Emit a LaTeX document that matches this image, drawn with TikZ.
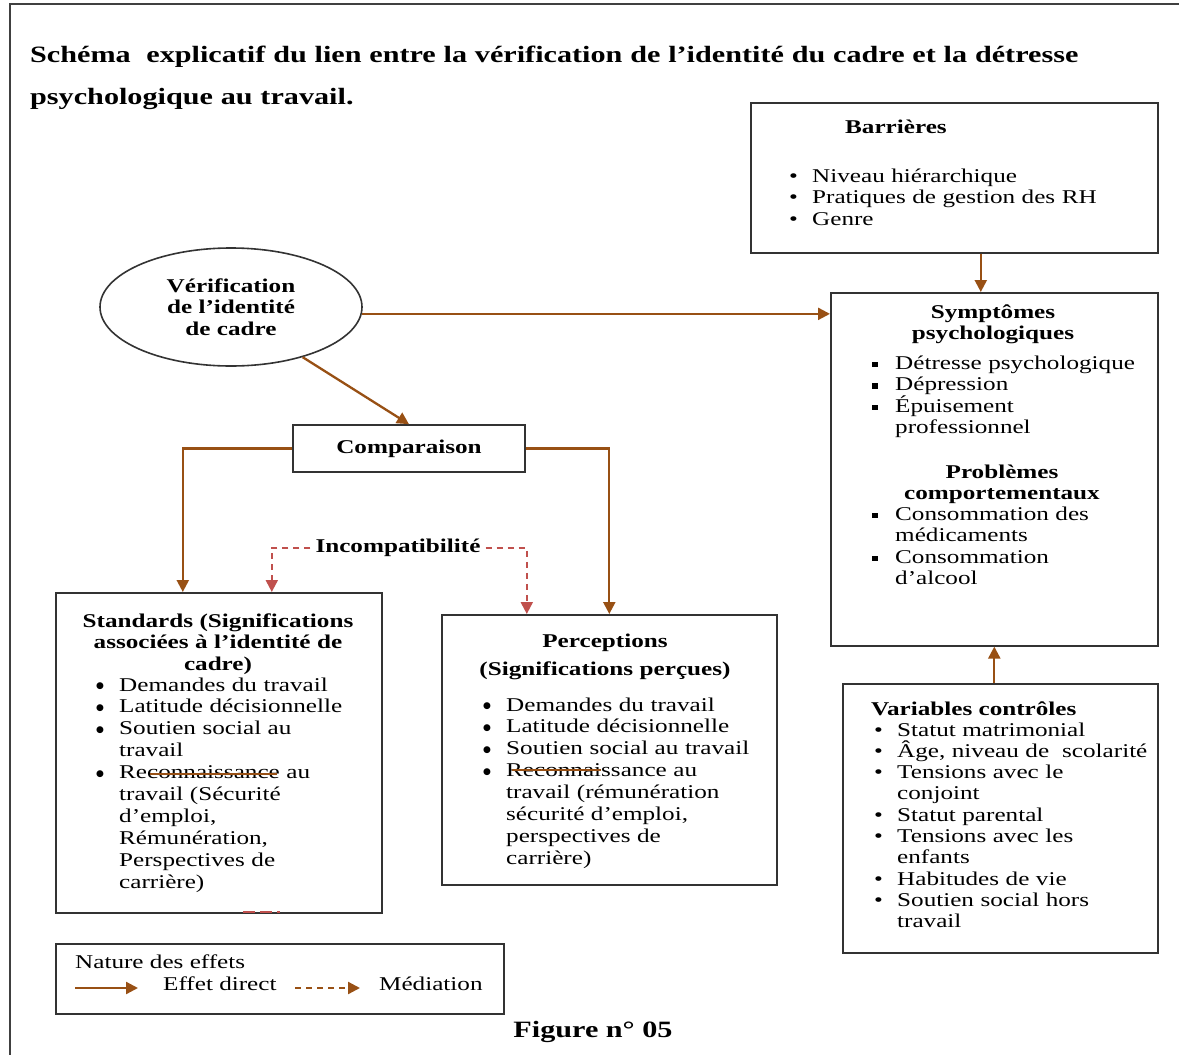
\documentclass[tikz,border=0pt]{standalone}
\usepackage{fontspec}
\setmainfont{Liberation Serif}[FakeStretch=1.29]
\newfontface\dotfont{DejaVu Sans}
\usepackage{tikz}
\usetikzlibrary{positioning,arrows.meta,shapes.geometric}
\definecolor{arrbrown}{RGB}{152,80,20}
\definecolor{incred}{RGB}{192,80,77}
\newlength{\bulw}
\setlength{\bulw}{23pt}
\newcommand{\itm}{\makebox[\bulw][l]{•}}
\newcommand{\ditm}{\makebox[\bulw][l]{\raisebox{2.5pt}{\dotfont\fontsize{9}{0}\selectfont ●}}}
\newcommand{\sqi}{\makebox[\bulw][l]{\rule[2pt]{5.5pt}{5.5pt}}}
\newcommand{\cnt}{\hspace*{\bulw}}

\begin{document}
\begin{tikzpicture}[
  x=1pt,y=-1pt,
  >={Triangle[length=12pt,width=12pt]},
  box/.style={rectangle,draw=black!80,line width=1.6pt,inner sep=0pt,anchor=north west},
  txt/.style={inner sep=0pt,font=\fontsize{19.5}{21.5}\selectfont},
  hdr/.style={inner sep=0pt,align=center,font=\bfseries\fontsize{19.5}{21.5}\selectfont},
  lst/.style={txt,anchor=base west,align=left,text width=#1},
  ttl/.style={inner sep=0pt,font=\bfseries\fontsize{23.4}{42}\selectfont},
  arr/.style={->,draw=arrbrown,line width=2.3pt},
  incline/.style={->,draw=incred,line width=2pt,dash pattern=on 6pt off 5pt}
]
\useasboundingbox (0,0) rectangle (1179,1055);
\draw[line width=1.5pt,black!75] (10,1055) -- (10,4) -- (1179,4);

\node[ttl,anchor=base west,text width=1140pt,align=left] (ttl) at (30,62)
  {Schéma\ \ explicatif du lien entre la vérification de l’identité du cadre et la détresse\\psychologique au travail.};

% boxes
\node[box,minimum width=407pt,minimum height=150pt] (bar) at (750,102) {};
\node[box,minimum width=327pt,minimum height=353pt] (sym) at (830,292) {};
\node[box,minimum width=315pt,minimum height=269pt] (var) at (842,683) {};
\node[box,minimum width=326pt,minimum height=320pt] (std) at (55,592) {};
\node[box,minimum width=335pt,minimum height=270pt] (perc) at (441,614) {};
\node[box,minimum width=448pt,minimum height=70pt] (leg) at (55,943) {};
\node[box,anchor=center,minimum width=232pt,minimum height=47pt,
      font=\bfseries\fontsize{19.5}{21.5}\selectfont] (comp) at (409,448.5) {Comparaison};
\node[ellipse,draw=black!80,line width=1.6pt,minimum width=262pt,minimum height=118pt,
      inner sep=0pt,align=center,font=\bfseries\fontsize{19.5}{21.5}\selectfont] (ver) at (231,307)
  {Vérification\\de l’identité\\de cadre};

% texts in the boxes
\node[hdr,anchor=base west] (barT) at (845,133) {Barrières};
\node[lst=340pt] (barL) at (789,182) {\itm Niveau hiérarchique\\\itm Pratiques de gestion des RH\\\itm Genre};

\node[hdr,text width=300pt,anchor=base] (symT) at (993,318) {Symptômes\\psychologiques};
\node[lst=280pt] (symL) at (872,369)
  {\sqi Détresse psychologique\\\sqi Dépression\\\sqi Épuisement\\\cnt professionnel};
\node[hdr,text width=300pt,anchor=base] (probT) at (1002,478) {Problèmes\\comportementaux};
\node[lst=280pt] (probL) at (872,520)
  {\sqi Consommation des\\\cnt médicaments\\\sqi Consommation\\\cnt d’alcool};

\node[hdr,anchor=base west] (varT) at (871,715) {Variables contrôles};
\node[lst=290pt,font=\fontsize{19.5}{21.3}\selectfont] (varL) at (874,736)
  {\itm Statut matrimonial\\\itm Âge, niveau de\ \ scolarité\\\itm Tensions avec le\\\cnt conjoint\\
   \itm Statut parental\\\itm Tensions avec les\\\cnt enfants\\\itm Habitudes de vie\\
   \itm Soutien social hors\\\cnt travail};

\node[hdr,text width=320pt,anchor=base] (stdT) at (218,627)
  {Standards (Significations\\associées à l’identité de\\cadre)};
\node[lst=290pt,font=\fontsize{19.5}{21.9}\selectfont] (stdL) at (96,691)
  {\ditm Demandes du travail\\\ditm Latitude décisionnelle\\\ditm Soutien social au\\\cnt travail\\
   \ditm Reconnaissance au\\\cnt travail (Sécurité\\\cnt d’emploi,\\\cnt Rémunération,\\
   \cnt Perspectives de\\\cnt carrière)};

\node[hdr,text width=320pt,anchor=base,font=\bfseries\fontsize{19.5}{28}\selectfont] (percT) at (605,647)
  {Perceptions\\(Significations perçues)};
\node[lst=300pt,font=\fontsize{19.5}{21.9}\selectfont] (percL) at (483,711)
  {\ditm Demandes du travail\\\ditm Latitude décisionnelle\\\ditm Soutien social au travail\\
   \ditm Reconnaissance au\\\cnt travail (rémunération\\\cnt sécurité d’emploi,\\
   \cnt perspectives de\\\cnt carrière)};

\node[hdr,inner sep=5pt] (inc) at (398,548) {Incompatibilité};

% legend
\node[txt,anchor=base west] (legT) at (75,968) {Nature des effets};
\node[txt,anchor=base west] (legD) at (163,990) {Effet direct};
\node[txt,anchor=base west] (legM) at (379,990) {Médiation};
\coordinate (ld1) at (75,988);
\coordinate (ld2) at (138,988);
\coordinate (lm1) at (295,988);
\coordinate (lm2) at (360,988);
\draw[arr] (ld1) -- (ld2);
\draw[arr,dash pattern=on 6pt off 5pt] (lm1) -- (lm2);

\node[ttl,anchor=base] (fig) at (593,1037) {Figure n° 05};

% connectors
\draw[arr] (ver.-3) -- (ver.-3 -| sym.west);
\draw[arr] (ver.-35) -- (comp.north);
\draw[arr] ([xshift=26.5pt]bar.south) -- ([xshift=26.5pt]bar.south |- sym.north);
\draw[arr] (var.north -| sym.south) -- (sym.south);
\draw[arr] (comp.west) -| ([xshift=-36pt]std.north);
\draw[arr] (comp.east) -| (perc.north);
\draw[incline] (inc.west) -| ([xshift=53pt]std.north);
\draw[incline] (inc.east) -| ([xshift=-82.5pt]perc.north);

% strike marks over Reconnaissance and the red mark under Standards
\draw[arrbrown,line width=1.6pt] (150,774) -- (277,774);
\draw[arrbrown,line width=1.6pt] (512,770) -- (601,770);
\draw[incred,line width=2pt,dash pattern=on 12pt off 5pt] (243,912) -- (280,912);
\end{tikzpicture}
\end{document}
